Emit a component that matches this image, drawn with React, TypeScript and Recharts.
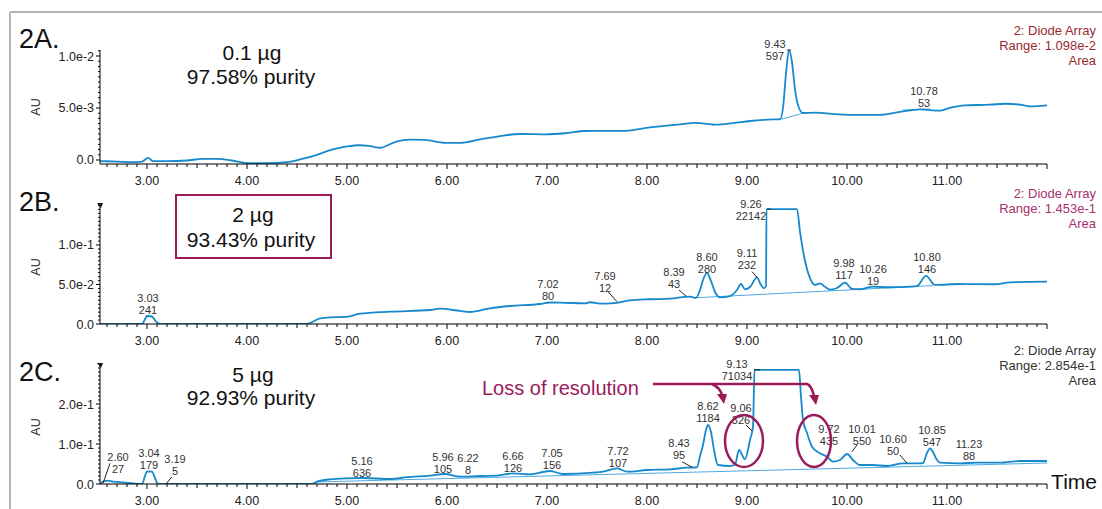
import React from 'react';
import { LineChart, Line, XAxis, YAxis, ReferenceLine, ReferenceDot } from 'recharts';

const FONT = '"Liberation Sans", Arial, Helvetica, sans-serif';
const TRACE = '#1689cc';
const BASE = '#4fa9e0';
const CRIMSON = '#9b1b5a';

// ---- 2A: 0.1 µg ----
const timeA = [2.53, 2.7, 2.85, 2.95, 3.01, 3.06, 3.2, 3.4, 3.55, 3.7, 3.85, 4.0, 4.2, 4.4, 4.55, 4.7, 4.85, 5.0, 5.12, 5.22, 5.33, 5.48, 5.63, 5.78, 5.98, 6.13, 6.33, 6.53, 6.73, 6.98, 7.18, 7.38, 7.6, 7.78, 8.03, 8.33, 8.48, 8.7, 8.86, 9.03, 9.2, 9.33, 9.36, 9.39, 9.42, 9.45, 9.48, 9.52, 9.56, 9.68, 9.88, 10.15, 10.33, 10.53, 10.73, 10.93, 11.01, 11.18, 11.43, 11.58, 11.73, 11.83, 12.0];
const auA = [-0.0001, -0.00015, -0.0002, -0.00015, 0.0002, -0.0001, -0.0001, -0.00005, 0.0001, 0.0001, -0.00005, -0.0003, -0.0003, -0.0002, 0.0001, 0.0005, 0.001, 0.0013, 0.00142, 0.00135, 0.00118, 0.00172, 0.00195, 0.00193, 0.00165, 0.00165, 0.00198, 0.0023, 0.0025, 0.00247, 0.00257, 0.00279, 0.0028, 0.0028, 0.00314, 0.00343, 0.00356, 0.0034, 0.00355, 0.00375, 0.00388, 0.00392, 0.005, 0.0083, 0.01058, 0.0094, 0.0068, 0.005, 0.00452, 0.00455, 0.00442, 0.00433, 0.00433, 0.00462, 0.00487, 0.00474, 0.00497, 0.00526, 0.00532, 0.00541, 0.00532, 0.00516, 0.00526];

// ---- 2B: 2 µg ----
const timeB = [2.53, 2.95, 2.98, 3.0, 3.05, 3.09, 3.13, 4.6, 4.73, 4.83, 4.98, 5.13, 5.43, 5.83, 5.93, 6.13, 6.23, 6.43, 6.63, 6.93, 7.03, 7.18, 7.38, 7.43, 7.53, 7.63, 7.73, 7.83, 8.03, 8.23, 8.43, 8.49, 8.53, 8.56, 8.6, 8.64, 8.68, 8.73, 8.83, 8.9, 8.94, 8.98, 9.03, 9.1, 9.13, 9.17, 9.19, 9.195, 9.5, 9.53, 9.58, 9.63, 9.68, 9.73, 9.78, 9.83, 9.9, 9.98, 10.05, 10.13, 10.26, 10.43, 10.63, 10.7, 10.79, 10.88, 11.13, 11.48, 11.63, 12.0];
const auB = [0, 0, 0.006, 0.0101, 0.0095, 0.003, 0, 0, 0.0072, 0.0085, 0.0089, 0.013, 0.0156, 0.0177, 0.0194, 0.0165, 0.0152, 0.0199, 0.0228, 0.0253, 0.0272, 0.0268, 0.0262, 0.0275, 0.0257, 0.026, 0.0275, 0.03, 0.0313, 0.032, 0.0346, 0.033, 0.043, 0.0557, 0.0646, 0.0544, 0.0405, 0.0338, 0.0354, 0.043, 0.0506, 0.0439, 0.0468, 0.0591, 0.0519, 0.0452, 0.0481, 0.1453, 0.1453, 0.117, 0.08, 0.058, 0.0494, 0.0515, 0.047, 0.0435, 0.0455, 0.0523, 0.0445, 0.044, 0.0472, 0.0465, 0.0472, 0.048, 0.0608, 0.0494, 0.0506, 0.0503, 0.0528, 0.0536];

// ---- 2C: 5 µg ----
const timeC = [2.53, 2.56, 2.6, 2.66, 2.75, 2.85, 2.95, 2.98, 3.0, 3.05, 3.08, 3.11, 4.65, 4.7, 4.83, 5.0, 5.16, 5.43, 5.6, 5.83, 5.98, 6.13, 6.33, 6.5, 6.66, 6.83, 7.03, 7.16, 7.46, 7.56, 7.7, 7.8, 8.0, 8.23, 8.4, 8.5, 8.53, 8.56, 8.59, 8.61, 8.64, 8.67, 8.71, 8.83, 8.88, 8.92, 8.98, 9.03, 9.06, 9.075, 9.52, 9.54, 9.56, 9.6, 9.65, 9.73, 9.8, 9.86, 9.93, 10.0, 10.06, 10.13, 10.26, 10.4, 10.56, 10.73, 10.76, 10.8, 10.83, 10.86, 10.9, 10.93, 11.13, 11.3, 11.53, 11.73, 12.0];
const auC = [0, 0.006, 0.0083, 0.006, 0.004, 0.002, 0, 0.02, 0.0318, 0.031, 0.015, 0, 0, 0.0058, 0.0118, 0.0143, 0.015, 0.0125, 0.017, 0.0208, 0.025, 0.0183, 0.02, 0.0208, 0.0268, 0.0243, 0.0325, 0.025, 0.0283, 0.0308, 0.0393, 0.0308, 0.035, 0.0368, 0.0408, 0.0418, 0.07, 0.0975, 0.135, 0.1475, 0.13, 0.085, 0.0475, 0.045, 0.048, 0.085, 0.0618, 0.11, 0.1433, 0.2854, 0.2854, 0.2183, 0.16, 0.1275, 0.0933, 0.0768, 0.0683, 0.0558, 0.06, 0.075, 0.06, 0.0475, 0.0475, 0.045, 0.0518, 0.0518, 0.0525, 0.0775, 0.0893, 0.08, 0.06, 0.0533, 0.0518, 0.0533, 0.0533, 0.0575, 0.0575];

// peak annotations: retention time, area, label anchor (time, AU)
const rtA = ['9.43', '10.78'];
const areaA = ['597', '53'];
const labTA = [9.28, 10.77];
const labVA = [0.01077, 0.00628];

const rtB = ['3.03', '7.02', '7.69', '8.39', '8.60', '9.11', '9.26', '9.98', '10.26', '10.80'];
const areaB = ['241', '80', '12', '43', '280', '232', '22142', '117', '19', '146'];
const labTB = [3.01, 7.01, 7.58, 8.27, 8.6, 9.0, 9.04, 9.97, 10.26, 10.8];
const labVB = [0.0275, 0.0456, 0.0557, 0.0611, 0.0794, 0.0852, 0.1468, 0.0718, 0.0642, 0.0794];

const rtC = ['2.60', '3.04', '3.19', '5.16', '5.96', '6.22', '6.66', '7.05', '7.72', '8.43', '8.62', '9.06', '9.13', '9.72', '10.01', '10.60', '10.85', '11.23'];
const areaC = ['27', '179', '5', '636', '105', '8', '126', '156', '107', '95', '1184', '326', '71034', '435', '550', '50', '547', '88'];
const labTC = [2.71, 3.02, 3.28, 5.15, 5.96, 6.21, 6.66, 7.05, 7.71, 8.32, 8.61, 8.94, 8.9, 9.82, 10.15, 10.46, 10.85, 11.22];
const labVC = [0.0583, 0.0668, 0.0518, 0.0483, 0.0583, 0.0543, 0.06, 0.0668, 0.0733, 0.0918, 0.185, 0.1793, 0.29, 0.1268, 0.1268, 0.1018, 0.125, 0.0893];

// integration baselines [t1, v1, t2, v2]
const baseA = [[9.34, 0.00392, 9.56, 0.00449], [10.56, 0.0048, 10.83, 0.0049]];
const baseB = [[8.5, 0.0333, 10.86, 0.0486]];
const baseC = [[4.68, 0.005, 12.0, 0.0525]];

// label leaders and apex marks [t1, v1, t2, v2]
const leadA = [[9.4, 0.01058, 9.44, 0.01058]];
const leadB = [[7.61, 0.0409, 7.7, 0.0282], [8.32, 0.043, 8.39, 0.0354], [9.05, 0.0662, 9.1, 0.0591], [9.2, 0.1453, 9.24, 0.1453]];
const leadC = [[2.63, 0.0518, 2.56, 0.0018], [3.25, 0.0183, 3.19, 0.0], [8.35, 0.0558, 8.45, 0.0418], [8.99, 0.1475, 9.05, 0.1325], [10.53, 0.0725, 10.6, 0.0518], [10.1, 0.0975, 10.05, 0.0808], [9.07, 0.2854, 9.13, 0.2854]];

// axes
const X_DOMAIN = [2.53, 12.0];
const xTicks = Array.from({ length: 95 }, (_, i) => Math.round((2.6 + i * 0.1) * 100) / 100);
const xLabelled = [3, 4, 5, 6, 7, 8, 9, 10, 11];

const yMajorA = [0, 0.005, 0.01];
const yLabelA = ['0.0', '5.0e-3', '1.0e-2'];
const yMajorB = [0, 0.05, 0.1];
const yLabelB = ['0.0', '5.0e-2', '1.0e-1'];
const yMajorC = [0, 0.1, 0.2];
const yLabelC = ['0.0', '1.0e-1', '2.0e-1'];

const steps = (step: number, n: number) => Array.from({ length: n }, (_, i) => Math.round(i * step * 1e6) / 1e6);

const XTick = (props: any) => {
  const { x, y, payload } = props;
  const v = payload.value;
  const major = Math.abs(v - Math.round(v)) < 1e-6;
  const half = Math.abs(v * 2 - Math.round(v * 2)) < 1e-6;
  const labelled = xLabelled.some((m) => Math.abs(m - v) < 1e-6);
  return (
    <g>
      <line x1={x} x2={x} y1={y} y2={y + (major ? 5 : half ? 4 : 3)} stroke="#000" strokeWidth={1} />
      {labelled && (
        <text x={x} y={y + 21} textAnchor="middle" fontSize={12.5} fill="#222" fontFamily={FONT}>
          {v.toFixed(2)}
        </text>
      )}
    </g>
  );
};

const makeYTick = (major: number[], labels: string[], step: number) => (props: any) => {
  const { x, y, payload } = props;
  const i = major.findIndex((m) => Math.abs(m - payload.value) < step / 10);
  return (
    <g>
      <line x1={x - (i >= 0 ? 4 : 2)} x2={x} y1={y} y2={y} stroke="#000" strokeWidth={1} />
      {i >= 0 && (
        <text x={x - 6} y={y + 4.5} textAnchor="end" fontSize={12.5} fill="#222" fontFamily={FONT}>
          {labels[i]}
        </text>
      )}
    </g>
  );
};

const peakLabel = (rt: string, area: string) => (p: any) => (
  <g fontFamily={FONT} fontSize={11} fill="#333" textAnchor="middle">
    <text x={p.cx} y={p.cy}>{rt}</text>
    <text x={p.cx} y={p.cy + 12}>{area}</text>
  </g>
);

const ellipseShape = (rx: number, ry: number) => (p: any) => (
  <ellipse cx={p.cx} cy={p.cy} rx={rx} ry={ry} fill="none" stroke={CRIMSON} strokeWidth={2.5} />
);

const arrowShape = (sx: number, sy: number) => (p: any) => {
  const { cx, cy } = p;
  return (
    <g>
      <path d={`M${cx + sx},${cy + sy} Q${cx - 2},${cy - 16} ${cx - 1},${cy - 8}`} fill="none" stroke={CRIMSON} strokeWidth={2.5} />
      <path d={`M${cx + 1},${cy} L${cx - 6},${cy - 10} L${cx + 4},${cy - 10} Z`} fill={CRIMSON} />
    </g>
  );
};

// annotation anchors in panel C (time, AU)
const circleT = [8.97, 9.67];
const circleV = [0.1075, 0.1075];
const arrowT = [8.76, 9.68];
const arrowV = [0.2, 0.1975];
const arrowLine = [8.06, 0.25, 9.61, 0.25];

type PanelProps = {
  top: number;
  height: number;
  marginTop: number;
  xAxisHeight: number;
  time: number[];
  au: number[];
  yDomain: number[];
  yMajor: number[];
  yLabels: string[];
  yStep: number;
  yCount: number;
  rt: string[];
  area: string[];
  labT: number[];
  labV: number[];
  base: number[][];
  lead: number[][];
  children?: React.ReactNode;
};

function Panel(props: PanelProps) {
  const data = props.time.map((t, i) => ({ t, v: props.au[i] }));
  return (
    <div style={{ position: 'absolute', left: 0, top: props.top }}>
      <LineChart
        width={1102}
        height={props.height}
        data={data}
        margin={{ top: props.marginTop, right: 55, bottom: 0, left: 0 }}
      >
        <XAxis
          dataKey="t"
          type="number"
          domain={X_DOMAIN}
          allowDataOverflow
          ticks={xTicks}
          interval={0}
          height={props.xAxisHeight}
          tickSize={0}
          tickMargin={0}
          axisLine={{ stroke: '#000', strokeWidth: 1 }}
          tick={XTick}
        />
        <YAxis
          type="number"
          domain={props.yDomain}
          allowDataOverflow
          ticks={steps(props.yStep, props.yCount)}
          interval={0}
          width={100}
          tickSize={0}
          tickMargin={0}
          axisLine={{ stroke: '#000', strokeWidth: 1 }}
          tick={makeYTick(props.yMajor, props.yLabels, props.yStep)}
        />
        {props.base.map((s, i) => (
          <ReferenceLine
            key={'b' + i}
            segment={[{ x: s[0], y: s[1] }, { x: s[2], y: s[3] }]}
            stroke={BASE}
            strokeWidth={1}
            ifOverflow="visible"
          />
        ))}
        <Line
          type="monotone"
          dataKey="v"
          stroke={TRACE}
          strokeWidth={1.8}
          dot={false}
          isAnimationActive={false}
        />
        {props.lead.map((s, i) => (
          <ReferenceLine
            key={'l' + i}
            segment={[{ x: s[0], y: s[1] }, { x: s[2], y: s[3] }]}
            stroke="#222"
            strokeWidth={1}
            ifOverflow="visible"
          />
        ))}
        {props.rt.map((rt, i) => (
          <ReferenceDot
            key={'p' + i}
            x={props.labT[i]}
            y={props.labV[i]}
            r={0}
            ifOverflow="visible"
            shape={peakLabel(rt, props.area[i])}
          />
        ))}
        {props.children}
      </LineChart>
    </div>
  );
}

export default function App() {
  return (
    <div
      style={{
        position: 'absolute',
        left: 0,
        top: 0,
        width: 1102,
        height: 509,
        background: '#fff',
        overflow: 'hidden',
        fontFamily: FONT,
      }}
    >
      <Panel
        top={0}
        height={190}
        marginTop={50}
        xAxisHeight={26}
        time={timeA}
        au={auA}
        yDomain={[-0.000385, 0.010577]}
        yMajor={yMajorA}
        yLabels={yLabelA}
        yStep={0.0005}
        yCount={22}
        rt={rtA}
        area={areaA}
        labT={labTA}
        labV={labVA}
        base={baseA}
        lead={leadA}
      />
      <Panel
        top={180}
        height={170}
        marginTop={25}
        xAxisHeight={26}
        time={timeB}
        au={auB}
        yDomain={[0, 0.1506]}
        yMajor={yMajorB}
        yLabels={yLabelB}
        yStep={0.005}
        yCount={31}
        rt={rtB}
        area={areaB}
        labT={labTB}
        labV={labVB}
        base={baseB}
        lead={leadB}
      />
      <Panel
        top={340}
        height={169}
        marginTop={25}
        xAxisHeight={25}
        time={timeC}
        au={auC}
        yDomain={[0, 0.2975]}
        yMajor={yMajorC}
        yLabels={yLabelC}
        yStep={0.01}
        yCount={30}
        rt={rtC}
        area={areaC}
        labT={labTC}
        labV={labVC}
        base={baseC}
        lead={leadC}
      >
        <ReferenceLine
          segment={[{ x: arrowLine[0], y: arrowLine[1] }, { x: arrowLine[2], y: arrowLine[3] }]}
          stroke={CRIMSON}
          strokeWidth={2.5}
          ifOverflow="visible"
        />
        <ReferenceDot x={arrowT[0]} y={arrowV[0]} r={0} ifOverflow="visible" shape={arrowShape(-11, -20)} />
        <ReferenceDot x={arrowT[1]} y={arrowV[1]} r={0} ifOverflow="visible" shape={arrowShape(-7, -21)} />
        <ReferenceDot x={circleT[0]} y={circleV[0]} r={0} ifOverflow="visible" shape={ellipseShape(19, 26)} />
        <ReferenceDot x={circleT[1]} y={circleV[1]} r={0} ifOverflow="visible" shape={ellipseShape(17, 26)} />
      </Panel>

      <svg
        width={1102}
        height={509}
        style={{ position: 'absolute', left: 0, top: 0, pointerEvents: 'none' }}
        fontFamily={FONT}
      >
        <line x1={10} y1={12} x2={1102} y2={12} stroke="#b4b4b4" strokeWidth={2} />
        <line x1={10} y1={12} x2={10} y2={509} stroke="#b4b4b4" strokeWidth={2} />

        <text x={19} y={48} fontSize={27} fill="#111">2A.</text>
        <text x={19} y={211} fontSize={27} fill="#111">2B.</text>
        <text x={19} y={381} fontSize={27} fill="#111">2C.</text>

        <g fontSize={21} fill="#111" textAnchor="middle">
          <text x={252} y={60}>0.1 µg</text>
          <text x={251} y={84}>97.58% purity</text>
          <text x={253} y={222}>2 µg</text>
          <text x={251} y={247}>93.43% purity</text>
          <text x={253} y={382}>5 µg</text>
          <text x={251} y={405}>92.93% purity</text>
        </g>
        <rect x={176} y={195} width={155} height={63} fill="none" stroke={CRIMSON} strokeWidth={2} />

        <g fontSize={13} textAnchor="end">
          <text x={1096} y={35} fill="#9a2a2e">2: Diode Array</text>
          <text x={1096} y={50} fill="#9a2a2e">Range: 1.098e-2</text>
          <text x={1096} y={65} fill="#9a2a2e">Area</text>
          <text x={1096} y={198} fill="#a8306e">2: Diode Array</text>
          <text x={1096} y={213} fill="#a8306e">Range: 1.453e-1</text>
          <text x={1096} y={228} fill="#a8306e">Area</text>
          <text x={1096} y={355} fill="#333">2: Diode Array</text>
          <text x={1096} y={370} fill="#333">Range: 2.854e-1</text>
          <text x={1096} y={385} fill="#333">Area</text>
        </g>

        <g fontSize={12.5} fill="#222" textAnchor="middle">
          <text transform="translate(40,107) rotate(-90)">AU</text>
          <text transform="translate(40,267) rotate(-90)">AU</text>
          <text transform="translate(40,427) rotate(-90)">AU</text>
        </g>

        <path d="M97,203 L103,203 L101,208 Z" fill="#111" />
        <path d="M97,363 L103,363 L101,368 Z" fill="#111" />

        <text x={482} y={395} fontSize={20} fill={CRIMSON}>Loss of resolution</text>
        <text x={1097} y={489} fontSize={21} fill="#111" textAnchor="end">Time</text>
      </svg>
    </div>
  );
}
